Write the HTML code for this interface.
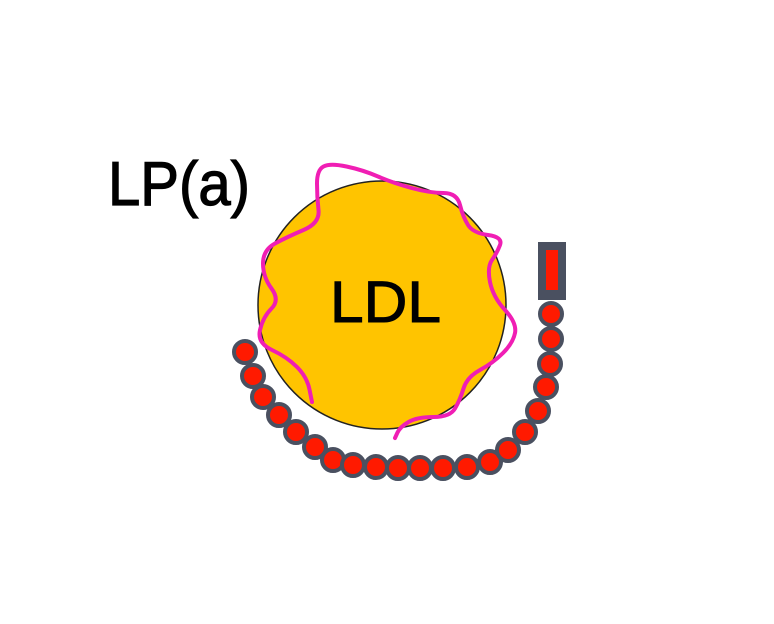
<!DOCTYPE html>
<html><head><style>html,body{margin:0;padding:0;background:#fff;}</style></head>
<body>
<svg width="774" height="619" viewBox="0 0 774 619" xmlns="http://www.w3.org/2000/svg">
<rect width="774" height="619" fill="#fff"/>
<circle cx="382" cy="305" r="124" fill="#FFC400" stroke="#222" stroke-width="1.5"/>
<text x="108" y="205" font-family="Liberation Sans, sans-serif" font-size="62" stroke="#000" stroke-width="1.2" textLength="142" lengthAdjust="spacingAndGlyphs">LP(a)</text>
<text x="330" y="322" font-family="Liberation Sans, sans-serif" font-size="58" stroke="#000" stroke-width="1" textLength="111" lengthAdjust="spacingAndGlyphs">LDL</text>
<path fill="none" stroke="#F01EB4" stroke-width="4" stroke-linejoin="round" stroke-linecap="round"
d="M312,402 L309.5,389.5 Q307,377 297,367 Q287,357 272,350 Q257,343 260,330 Q263,317 271.5,308.5 Q280,300 271.5,288.5 Q263,277 263,263.5 Q263,250 275,243.5 Q287,237 303.5,230 Q320,223 318.5,210 Q317,197 317,183.5 Q317,170 323.5,166.5 Q330,163 346.5,166.5 Q363,170 378,176.5 Q393,183 411.5,188 Q430,193 443.5,193 Q457,193 460,205 Q463,217 468,225 Q473,233 488,235 Q503,237 500,245 Q497,253 492,260 Q487,267 490,282 Q493,297 505,310 Q517,323 515,333 Q513,343 503,353 Q493,363 480,370 Q467,377 463.5,388.5 Q460,400 455,408.5 Q450,417 433.5,417 Q417,417 408.5,422 Q400,427 397.5,432.5 L395,438"/>
<g fill="#FF1A00" stroke="#4A5060" stroke-width="4">
<circle cx="245" cy="352" r="11"/><circle cx="253" cy="376" r="11"/><circle cx="263" cy="397" r="11"/>
<circle cx="279" cy="415" r="11"/><circle cx="296" cy="432" r="11"/><circle cx="315" cy="447" r="11"/>
<circle cx="333" cy="460" r="11"/><circle cx="353" cy="465" r="11"/><circle cx="376" cy="467" r="11"/>
<circle cx="398" cy="468" r="11"/><circle cx="420" cy="468" r="11"/><circle cx="443" cy="468" r="11"/>
<circle cx="467" cy="467" r="11"/><circle cx="490" cy="462" r="11"/><circle cx="508" cy="450" r="11"/>
<circle cx="525" cy="432" r="11"/><circle cx="538" cy="411" r="11"/><circle cx="546" cy="387" r="11"/>
<circle cx="550" cy="364" r="11"/><circle cx="551" cy="339" r="11"/><circle cx="551" cy="314" r="11"/>
</g>
<rect x="538" y="242" width="28" height="58" fill="#4A5060"/>
<rect x="546" y="250" width="12" height="40" fill="#FF1A00"/>
</svg>
</body></html>
